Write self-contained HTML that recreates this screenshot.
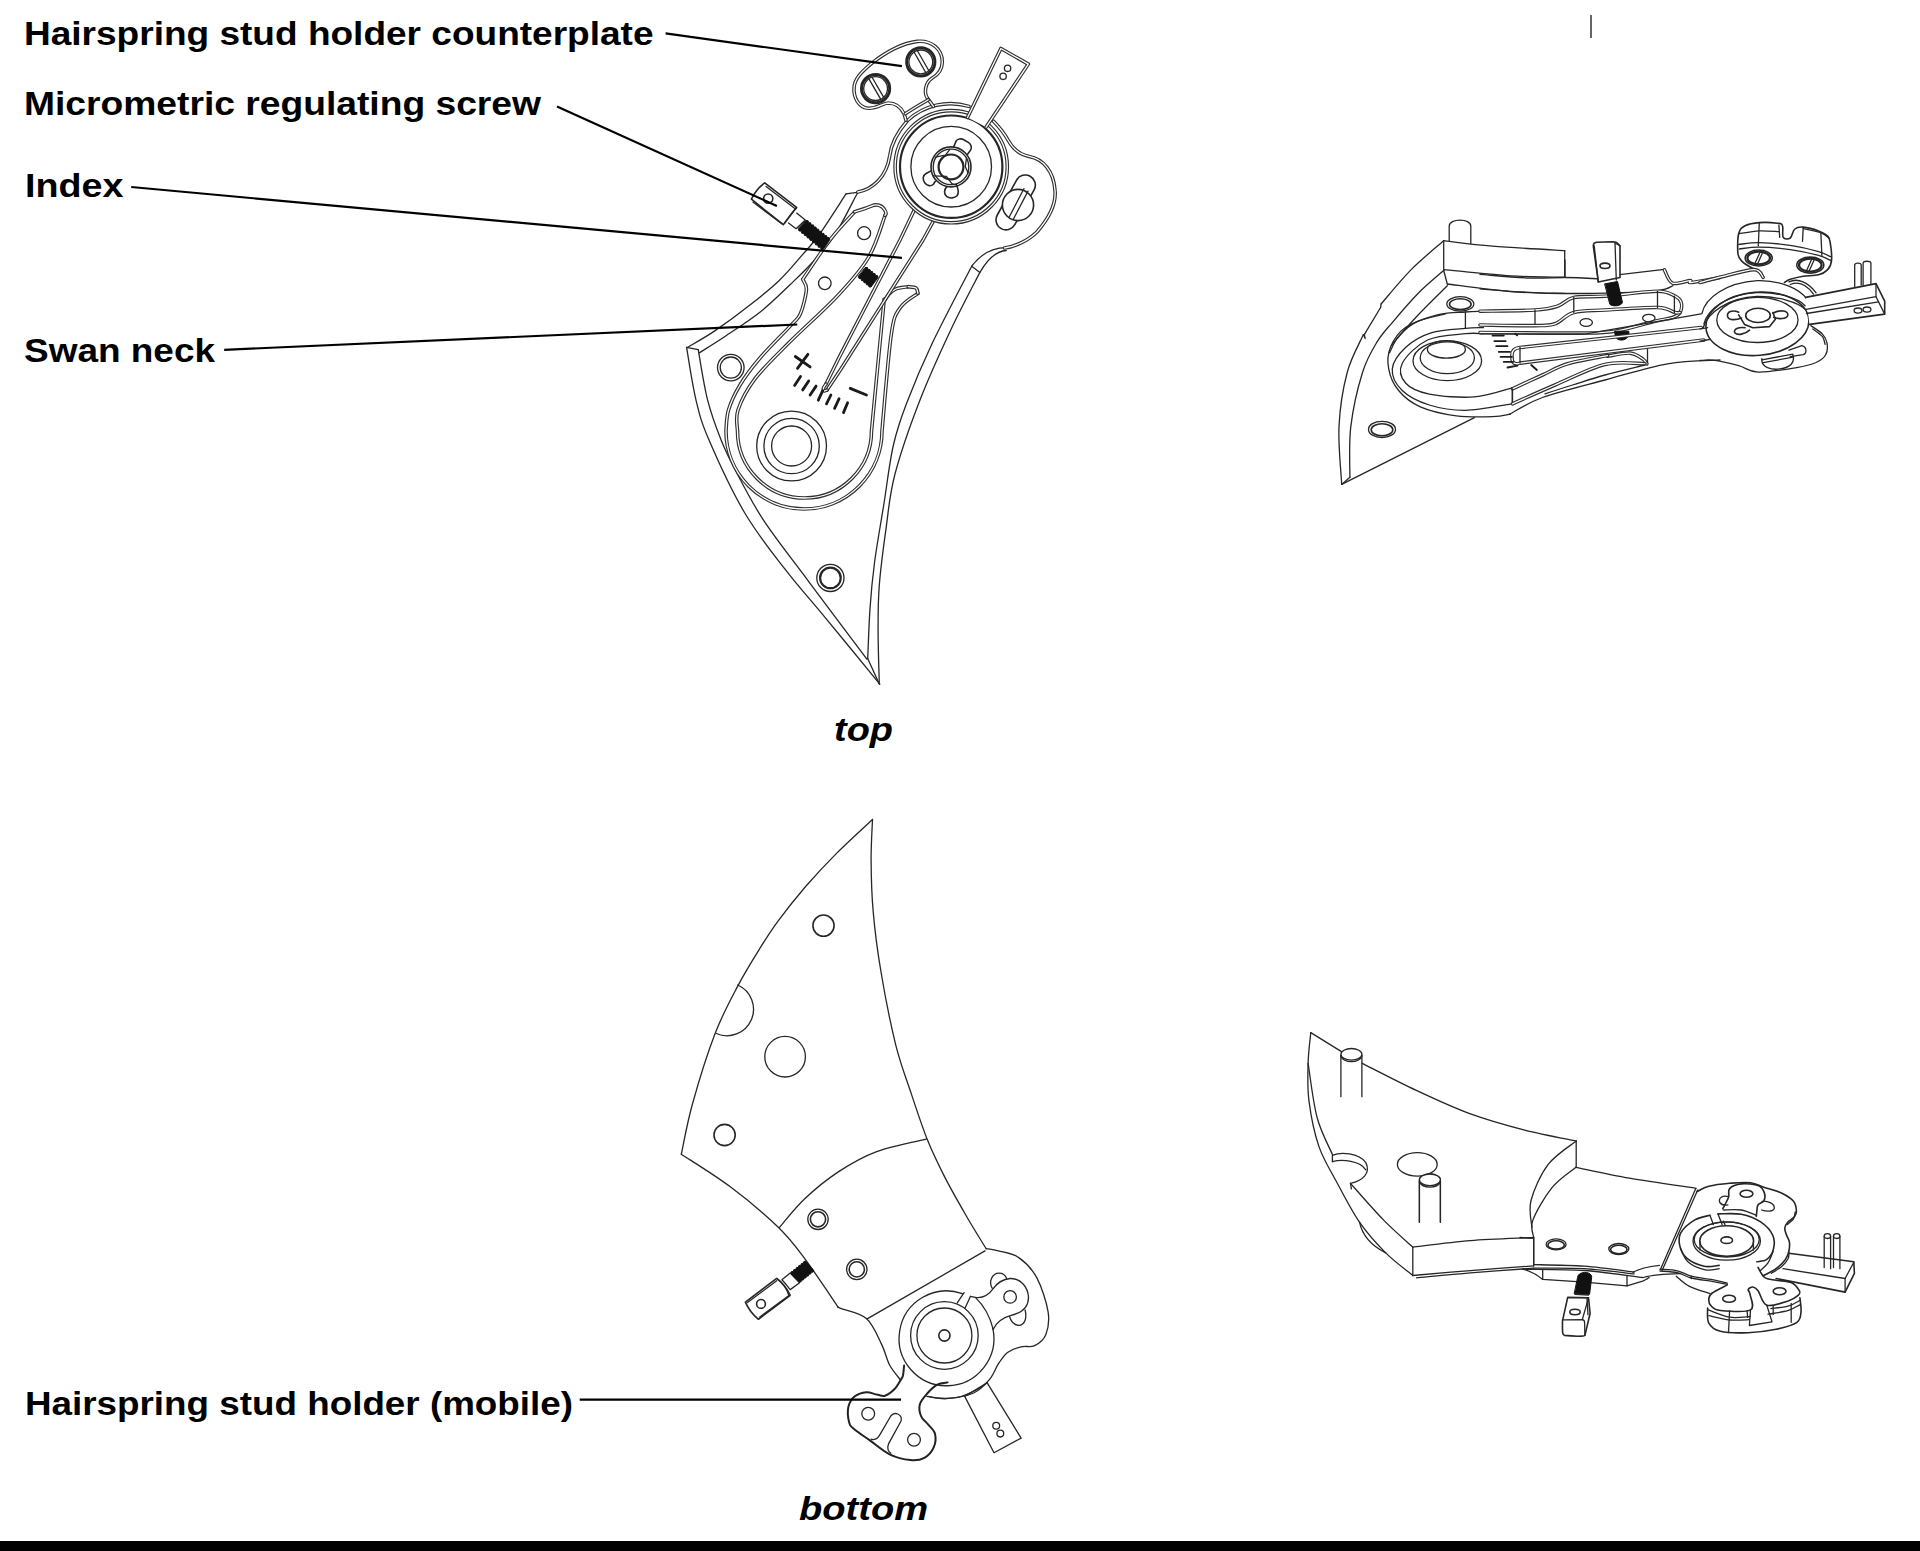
<!DOCTYPE html>
<html><head><meta charset="utf-8">
<style>
html,body{margin:0;padding:0;background:#fff;width:1920px;height:1551px;overflow:hidden;}
svg{position:absolute;left:0;top:0;}
.lab{font-family:"Liberation Sans",sans-serif;font-weight:bold;font-size:34px;fill:#000;}
.cap{font-family:"Liberation Sans",sans-serif;font-weight:bold;font-style:italic;font-size:34px;fill:#000;}
.ld{stroke:#000;stroke-width:2.2;fill:none;}
path,circle,ellipse{stroke-linejoin:round;stroke-linecap:round;fill:none;}
.s{stroke:#262626;stroke-width:1.3;fill:none;}
.s2{stroke:#262626;stroke-width:1.6;}
.th{stroke:#262626;stroke-width:2.2;}
.th3{stroke:#262626;stroke-width:3;}
.tk{stroke:#1a1a1a;stroke-width:2.8;fill:none;}
.db{stroke:#303030;stroke-width:3.6;}
.dw{stroke:#fff;stroke-width:1.3;fill:none;}
path.fb,ellipse.fb{fill:#111;stroke:#111;stroke-width:1;}
path.s2,path.th,path.th3,path.s3{fill:none;}
.s3{stroke:#222;stroke-width:2;}
.tk2{stroke:#1a1a1a;stroke-width:1.8;fill:none;}
ellipse.s2,ellipse.th{fill:none;}
circle.s2,circle.th,circle.th3,circle.s3{fill:none;}
</style></head>
<body>
<svg width="1920" height="1551" viewBox="0 0 1920 1551">
<rect x="0" y="1541" width="1920" height="10" fill="#000"/>
<line x1="1591" y1="15" x2="1591" y2="38" stroke="#666" stroke-width="2"/>
<g id="top">
<path class="s" d="M686.6,347.4 C688.1,356.1 692.2,384.2 695.9,399.6 C699.6,415 700.9,421.2 709,440 C717.1,458.8 731.8,491 744.5,512.5 C757.1,534 771.3,551.5 784.8,568.9 C798.2,586.4 809.2,598.1 825,617.3 C840.9,636.5 870.7,673 879.8,684.2" />
<path class="s" d="M698.2,349.7 C699.8,358 703.7,384.6 707.5,399.6 C711.3,414.7 716.3,427.9 721.1,440 C725.9,452.1 729.3,458.8 736.4,472.2 C743.5,485.7 751.7,502.3 763.8,520.6 C775.9,538.8 791.7,558.7 808.9,581.8 C826.1,604.9 857.3,646.3 866.9,659.2" />
<path class="s" d="M867.7,658.5 L879.3,684" />
<path class="s" d="M686.6,347.4 L698.2,349.7" />
<path class="s" d="M687,347.7 C691.6,344.9 704.4,337.9 714.8,330.9 C725.3,323.8 739,313.7 749.6,305.3 C760.3,297 769.9,289.3 778.7,281 C787.4,272.7 795.1,263.2 801.9,255.4 C808.6,247.7 811.9,244.8 819.3,234.5 C826.6,224.3 841.5,200.7 846,193.9" />
<path class="s" d="M699.2,352.9 C703.7,350 716.1,342.5 726.4,335.5 C736.8,328.6 750.6,319.7 761.2,311.2 C771.9,302.6 781.6,292.8 790.3,284.5 C799,276.1 806.1,269.4 813.5,261.2 C820.8,253.1 827,247.1 834.4,235.7 C841.7,224.3 853.7,199.9 857.6,192.8" />
<path class="s" d="M846.1,193.9 L857.3,192.3" />
<path class="s" d="M1006.2,247.6  C993.3,247.6 981,253.8 971.7,266.2 L971.7,266.2 C965.1,279.1 942.8,321 932,343.8 C921.2,366.6 913.2,386.1 906.7,403.1 C900.2,420.1 897,429.2 893.2,446 C889.4,462.8 887,484.7 883.9,504 C880.8,523.3 876.9,544.6 874.6,562 C872.3,579.4 871.1,592.5 870,608.6 C868.9,624.7 868.1,650.2 867.7,658.5" />
<path class="s" d="M1006.2,250.5  C996.4,251.2 988.2,257.9 979.9,272.4 L979.9,272.4 C975.1,281.8 961.2,307.7 951.2,329 C941.2,350.3 929.4,375.8 920,400 C910.6,424.2 900.6,452.8 895,474 C889.4,495.2 888.8,508.7 886.2,527.3 C883.6,545.8 880.6,567.9 879.3,585.3 C877.9,602.7 878.1,615.3 878.1,631.8 C878.1,648.2 879.1,675.3 879.3,684" />
<path class="s" d="M971.7,266.2 L979.9,272.4" />
<path class="db" d="M857.8,192 C872.6,189.4 886.7,176.8 889.7,156 C891.2,142.7 898.6,130.8 907.5,120.5"/>
<path class="dw" d="M857.8,192 C872.6,189.4 886.7,176.8 889.7,156 C891.2,142.7 898.6,130.8 907.5,120.5" />
<path class="db" d="M993.5,121.2  C1000.2,127.9 1004.6,133.8 1008.3,140.5  C1012.8,148.6 1019.4,154.6 1029.1,156.4  C1043.2,159 1053.6,170.9 1055,190.2  C1056.5,205 1047.6,219.8 1037.2,231.7  C1028.3,240.6 1015,246.5 1004.6,248"/>
<path class="dw" d="M993.5,121.2  C1000.2,127.9 1004.6,133.8 1008.3,140.5  C1012.8,148.6 1019.4,154.6 1029.1,156.4  C1043.2,159 1053.6,170.9 1055,190.2  C1056.5,205 1047.6,219.8 1037.2,231.7  C1028.3,240.6 1015,246.5 1004.6,248" />
<path class="db" d="M907.5,120.5 A63.3,63.3 0 0 1 969,106.4"/>
<path class="dw" d="M907.5,120.5 A63.3,63.3 0 0 1 969,106.4" />
<path class="db" d="M854.6,211.9 C850.5,216.5 838.9,228.2 830.3,239.5 C821.6,250.8 807.3,272.8 802.7,279.4 L802.7,279.4 C803.3,281.1 806.8,284 806.4,289.7 C806,295.4 803,307.7 800.5,313.5 C798,319.3 798.4,317.2 791.6,324.6 C784.9,332 768.6,347.9 760,358 C751.4,368.1 745.2,376.3 740,385 C734.8,393.7 730.8,402.3 728.5,410 C726.2,417.7 726.4,427.5 726,431 A78,78 0 0 0 882,431 L882,431 C883.5,415 888.2,355.4 891.2,334.9 C894.2,314.4 895.5,314.9 900,308 C904.5,301.1 914.9,295.8 917.9,293.4"/>
<path class="dw" d="M854.6,211.9 C850.5,216.5 838.9,228.2 830.3,239.5 C821.6,250.8 807.3,272.8 802.7,279.4 L802.7,279.4 C803.3,281.1 806.8,284 806.4,289.7 C806,295.4 803,307.7 800.5,313.5 C798,319.3 798.4,317.2 791.6,324.6 C784.9,332 768.6,347.9 760,358 C751.4,368.1 745.2,376.3 740,385 C734.8,393.7 730.8,402.3 728.5,410 C726.2,417.7 726.4,427.5 726,431 A78,78 0 0 0 882,431 L882,431 C883.5,415 888.2,355.4 891.2,334.9 C894.2,314.4 895.5,314.9 900,308 C904.5,301.1 914.9,295.8 917.9,293.4" />
<path class="db" d="M908.2,286.7 C906,287.2 898.8,287.3 894.9,289.5 C891,291.7 887,296.2 885,300 C883,303.8 885.2,290.2 883,312 C880.8,333.8 873.4,411.2 871.5,431 A67,67 0 0 1 737.5,431 L737.5,431 C737.6,427.5 735.1,418.7 738,410 C740.9,401.3 746.7,389.8 755.1,378.7 C763.5,367.6 774.9,356.9 788.6,343.1 C802.4,329.3 824.2,310 837.6,295.7 C851,281.4 860.8,270.5 868.7,257.1 C876.6,243.8 882.3,222.5 885,215.6"/>
<path class="dw" d="M908.2,286.7 C906,287.2 898.8,287.3 894.9,289.5 C891,291.7 887,296.2 885,300 C883,303.8 885.2,290.2 883,312 C880.8,333.8 873.4,411.2 871.5,431 A67,67 0 0 1 737.5,431 L737.5,431 C737.6,427.5 735.1,418.7 738,410 C740.9,401.3 746.7,389.8 755.1,378.7 C763.5,367.6 774.9,356.9 788.6,343.1 C802.4,329.3 824.2,310 837.6,295.7 C851,281.4 860.8,270.5 868.7,257.1 C876.6,243.8 882.3,222.5 885,215.6" />
<path class="db" d="M885,215.3  C886.7,214 886,211.9 884.7,209.9  C882,205.2 876.6,203.8 871.8,205.8  C867.1,207.9 860.3,209.9 854.6,211.9"/>
<path class="dw" d="M885,215.3  C886.7,214 886,211.9 884.7,209.9  C882,205.2 876.6,203.8 871.8,205.8  C867.1,207.9 860.3,209.9 854.6,211.9" />
<path class="db" d="M908.2,286.7 C909.5,286.9 914.4,286.9 916,288 C917.6,289.1 917.6,292.5 917.9,293.4"/>
<path class="dw" d="M908.2,286.7 C909.5,286.9 914.4,286.9 916,288 C917.6,289.1 917.6,292.5 917.9,293.4" />
<path class="db" d="M915.6,207.2 L900,240 L840,355.7 L826,384"/>
<path class="dw" d="M915.6,207.2 L900,240 L840,355.7 L826,384" />
<path class="db" d="M934.9,218.3 L923,240 L840,370.5 L827,390"/>
<path class="dw" d="M934.9,218.3 L923,240 L840,370.5 L827,390" />
<path class="db" d="M826,384 C825.6,384.7 823.8,386.8 823.5,388 C823.2,389.2 823.6,390.7 824.2,391 C824.8,391.3 826.5,390.2 827,390"/>
<path class="dw" d="M826,384 C825.6,384.7 823.8,386.8 823.5,388 C823.2,389.2 823.6,390.7 824.2,391 C824.8,391.3 826.5,390.2 827,390" />
<circle class="s" cx="864.1" cy="233.2" r="6.5"/>
<circle class="s" cx="824.8" cy="283.3" r="6.3"/>
<circle class="s" cx="730.8" cy="367.6" r="13.3" style="fill:#fff"/>
<circle class="s" cx="730.8" cy="367.6" r="10.6"/>
<circle class="s" cx="791.6" cy="446.0" r="34.9"/>
<circle class="s" cx="791.6" cy="446.0" r="27.7"/>
<circle class="s" cx="791.6" cy="446.0" r="20.0"/>
<circle class="s" cx="830.4" cy="577.9" r="13.6"/>
<circle class="th" cx="830.4" cy="577.9" r="10.3"/>
<path class="tk" d="M795.3,356.5 L810.1,366.9" />
<path class="tk" d="M807.9,354.3 L797.5,368.3" />
<path class="tk" d="M800.5,376.5 L794.6,385.4" />
<path class="tk" d="M808.7,381 L802.7,389.9" />
<path class="tk" d="M816.1,386.1 L810.1,395" />
<path class="tk" d="M822.7,390.6 L818.3,400.2" />
<path class="tk" d="M830.9,395 L826.5,403.9" />
<path class="tk" d="M839.1,398.7 L834.6,408.4" />
<path class="tk" d="M847.6,402.8 L843.5,412.6" />
<path class="tk" d="M850.2,388.4 L866.5,395" />
<path class="s2" d="M764.7,182.9  L796.6,207.3  L783.3,224.7  L751.4,199.2  C754.3,192.8 758.9,187 764.7,182.9  Z" style="fill:#fff"/>
<path class="s" d="M766.1,186.4  L795.5,209" />
<path class="s" d="M752.9,202.1  L782.1,223.9" />
<path class="s" d="M796.6,207.9  C792.6,211.3 787.9,218.3 784.5,223.2" />
<circle class="s2" cx="768.2" cy="198.6" r="4.6"/>
<path class="s" d="M796.6,213.1  L805.3,220  L796.1,228.7  L788.5,222.9" style="fill:#fff"/>
<path class="fb" d="M805.9,220.6 L808.1,220.7 L808.6,222.7 L810.7,222.8 L811.2,224.9 L813.4,224.9 L813.9,227 L816,227.1 L816.5,229.1 L818.6,229.2 L819.1,231.3 L821.3,231.3 L821.8,233.4 L823.9,233.4 L824.4,235.5 L826.6,235.6 L827.1,237.6 L829.2,237.7 L829.7,239.8 L823.3,249.6 L821.1,249.5 L820.6,247.3 L818.3,247.2 L817.8,245 L815.6,244.8 L815,242.7 L812.8,242.5 L812.2,240.4 L810,240.2 L809.5,238 L807.3,237.9 L806.7,235.7 L804.5,235.5 L803.9,233.4 L801.7,233.2 L801.2,231.1 L798.9,230.9 L798.4,228.7Z" />
<path class="fb" d="M865.5,267.5 L867.5,267.6 L868,269.5 L870,269.6 L870.5,271.5 L872.5,271.6 L873,273.5 L875,273.6 L875.5,275.5 L877.5,275.6 L878,277.5 L871,287 L869,286.9 L868.5,284.9 L866.5,284.8 L866,282.8 L864,282.7 L863.5,280.7 L861.5,280.6 L861,278.6 L859,278.5 L858.5,276.5Z" />
<circle class="db" cx="951.2" cy="166.7" r="56.1" style="fill:#fff"/>
<circle class="dw" cx="951.2" cy="166.7" r="56.1"/>
<circle class="th" cx="951.2" cy="166.7" r="51.2"/>
<circle class="s" cx="951.2" cy="166.7" r="40.3"/>
<circle class="s2" cx="951.0" cy="166.9" r="20.0"/>
<circle class="s" cx="951.0" cy="166.9" r="17.8"/>
<circle class="th" cx="951.0" cy="166.9" r="12.4"/>
<path class="s2" d="M953.7,146.9  L956.1,141.1  C957.1,138.7 961.4,138.2 963.8,139.7  L968.7,142.6  C971.6,144.5 972.1,148.4 970.1,150.8  L967.2,154.7" />
<path class="s2" d="M931.4,170.6  L926.1,173.5  C922.7,175.5 922.3,179.3 924.7,182.7  C927.1,186.1 931,186.6 933.4,184.2  L935.3,181.3" />
<path class="s2" d="M946.9,186.6  C944,189.5 943.5,194.3 946.9,196.7  C949.8,198.7 954.7,198.2 957.1,195.8  C959,192.9 958,188 956.1,184.2" />
<path class="s" d="M935.3,157.1  L945.5,155.1  L949.8,149.3" />
<path class="s" d="M933.4,175.9  L946.4,176.4  L951.8,183.7  L955.1,184.6" />
<path class="s" d="M966.3,159  L965.3,166.8  L968.2,173" />
<path class="db" d="M967.5,117.5 L1000.9,48.5 L1028.3,64.1 L986.1,127.1" style="fill:#fff"/>
<path class="dw" d="M967.5,117.5 L1000.9,48.5 L1028.3,64.1 L986.1,127.1" />
<circle class="s" cx="1007.6" cy="68.3" r="3.2"/>
<circle class="s" cx="1003.1" cy="76.3" r="3.2"/>
<path class="db" d="M906,120.2  L904.1,113.8  C900.8,107.1 894.9,103 888.2,103  C882.3,103.4 877.8,108.6 868.2,108.3  C857.8,107.1 853.3,96.7 854.1,87.1  C854.8,78.9 860.8,72.3 872.6,62.6  C886,52.2 902.3,43.3 917.1,41.4  C931.9,40.1 942.3,49.3 942.3,61.9  C942.3,70.8 937.1,75.2 931.9,78.2  C925.3,82.6 923.8,92.3 927.2,97.9  L933.4,106.4"/>
<path class="dw" d="M906,120.2  L904.1,113.8  C900.8,107.1 894.9,103 888.2,103  C882.3,103.4 877.8,108.6 868.2,108.3  C857.8,107.1 853.3,96.7 854.1,87.1  C854.8,78.9 860.8,72.3 872.6,62.6  C886,52.2 902.3,43.3 917.1,41.4  C931.9,40.1 942.3,49.3 942.3,61.9  C942.3,70.8 937.1,75.2 931.9,78.2  C925.3,82.6 923.8,92.3 927.2,97.9  L933.4,106.4" />
<path class="db" d="M905.3,113.8  C912.7,108.6 920.8,104.2 928.2,99.7"/>
<path class="dw" d="M905.3,113.8  C912.7,108.6 920.8,104.2 928.2,99.7" />
<circle class="th3" cx="920.8" cy="61.9" r="14.1"/>
<circle class="s" cx="920.8" cy="61.9" r="11.9"/>
<circle class="th3" cx="875.6" cy="88.6" r="14.1"/>
<circle class="s" cx="875.6" cy="88.6" r="11.9"/>
<path class="s" d="M914.2,52.2  L926,73" />
<path class="s" d="M917.4,50.8  L929.3,71.5" />
<path class="s" d="M868.9,78.9  L880.8,99.4" />
<path class="s" d="M872.2,77.5  L884,97.9" />
<path class="s2" d="M1034.1,189.8 L1014.8,224.7 A10,10 0 0 1 997.3,215.0 L1016.6,180.1 A10,10 0 0 1 1034.1,189.8 Z" />
<circle class="s2" cx="1018.0" cy="205.0" r="15.6" style="fill:#fff"/>
<path class="s" d="M1023.9,188.7  L1009.1,217.2" />
<path class="s" d="M1028,191.1  L1013.2,219.5" />
</g>
<g id="bot">
<path class="s" d="M872.5,819.5 C866.6,825 848.2,841.7 837,852.9 C825.9,864.1 815.2,875.5 805.4,886.7 C795.7,898 785.9,910.5 778.4,920.6 C770.8,930.8 767.1,936.8 760.3,947.7 C753.5,958.6 745.2,971.8 737.7,986.1 C730.2,1000.4 722.7,1013.9 715.1,1033.5 C707.6,1053 698.2,1083.3 692.6,1103.5 C686.9,1123.6 683.2,1145.8 681.3,1154.2" />
<path class="s" d="M681.3,1154.2 C689.4,1159.6 714,1174.5 730,1186.6 C746,1198.6 765.2,1214.7 777.5,1226.5 C789.8,1238.3 793.9,1244.1 804,1257.6 C814.1,1271.1 832.6,1299 838.3,1307.3" />
<path class="s" d="M872.5,819.5 C872.3,826.2 871,844.3 871.1,859.7 C871.2,875 871.5,892.8 873.2,911.6 C874.8,930.4 877.3,950.3 881.1,972.5 C884.8,994.7 890.7,1024.4 895.7,1044.8 C900.8,1065.1 906.3,1078.6 911.5,1094.4 C916.8,1110.2 921.9,1125.9 927.3,1139.6 C932.8,1153.2 937.8,1163.5 944.4,1176.4 C950.9,1189.3 960,1205 966.9,1217 C973.9,1229.1 982.9,1243.3 986.1,1248.6" />
<path class="s" d="M926.3,1139.2 C918,1141.2 891.3,1146.1 876.7,1151.6 C862,1157 850.3,1164 838.3,1171.9 C826.3,1179.8 814.2,1189.8 804.5,1199 C794.7,1208.2 783.8,1222.5 779.6,1227.2" />
<path class="s" d="M867.6,1318.6 L985,1250.9" />
<path class="s" d="M737.7,985 A26.5,26.5 0 0 1 716.3,1033.5" />
<circle class="s2" cx="823.5" cy="925.6" r="10.6"/>
<circle class="s" cx="785.1" cy="1056.7" r="20.3"/>
<circle class="s2" cx="724.6" cy="1135.0" r="10.6"/>
<circle class="s" cx="818.0" cy="1219.3" r="10.2"/>
<circle class="s2" cx="818.0" cy="1219.3" r="7.6"/>
<circle class="s" cx="856.8" cy="1269.4" r="10.2"/>
<circle class="s2" cx="856.8" cy="1269.4" r="7.6"/>
<path class="s" d="M986.1,1248.6 C988.2,1249 993,1249.4 998.5,1250.9 C1004,1252.4 1012.4,1253.1 1018.8,1257.6 C1025.2,1262.1 1032,1268.9 1036.9,1277.9 C1041.7,1287 1046.6,1302.4 1048.1,1311.8 C1049.6,1321.2 1048.1,1328.7 1045.9,1334.4 C1043.6,1340 1038.7,1343.6 1034.6,1345.6 C1030.5,1347.7 1025.6,1345.6 1021.1,1346.8 C1016.6,1347.9 1011.3,1349.6 1007.5,1352.4 C1003.8,1355.2 1001.5,1359.2 998.5,1363.7 C995.5,1368.2 993.6,1374.6 989.5,1379.5 C985.3,1384.4 980.8,1389.8 973.7,1393 C966.5,1396.2 954.1,1398.1 946.6,1398.7 C939.1,1399.2 931.6,1396.8 928.6,1396.4" />
<circle class="s" cx="944.4" cy="1335.5" r="33.8"/>
<circle class="s" cx="944.4" cy="1335.5" r="27.5"/>
<circle class="s2" cx="944.4" cy="1335.5" r="5.6"/>
<path class="s" d="M962.4,1293.7 A47.4,47.4 0 1 0 992.9,1328.7" />
<path class="s" d="M970.4,1296.4  L975.3,1297.4  C981.5,1298.4 988.3,1295.5 993.2,1288.7  C998,1281.9 1003.8,1279 1010.1,1278.5  C1020.2,1278 1028,1286.8 1028.5,1297.4  C1028.5,1306.1 1023.1,1312.9 1009.6,1315.8  C1003.8,1317.2 996.1,1322.5 993.2,1329.3" />
<path class="s" d="M975.3,1297.4  C982.5,1304.2 989.3,1313.8 993.2,1329.3" />
<path class="s" d="M992.2,1288.2  C988.3,1281.9 992.2,1273.2 999,1273.2  C1002.8,1273.2 1005.7,1276.1 1006.7,1278.5" />
<path class="s" d="M1009.6,1316.7  C1011.5,1322.5 1015.4,1325.4 1019.3,1325.4  C1025.1,1324.5 1027,1317.7 1025.1,1310" />
<circle class="s" cx="1010.1" cy="1296.9" r="6.3"/>
<path class="s" d="M964.1,1292.6  L957.4,1302.7" />
<path class="s" d="M970.4,1296.4  L965.1,1308" />
<path class="s" d="M964.7,1396.4 L987.2,1382.9 L1021.1,1438.1 L994,1452.8Z" />
<circle class="s" cx="996.2" cy="1425.7" r="3.4"/>
<circle class="s" cx="1000.3" cy="1433.6" r="3.4"/>
<path class="s" d="M838.3,1307.3 C838.7,1307.5 835.9,1306.5 840.6,1308.4 C845.3,1310.3 859.6,1312.6 866.4,1318.6 C873.2,1324.5 877.6,1336.4 881.5,1344.1 C885.4,1351.8 886.4,1359 889.6,1365 C892.8,1371 898.8,1377.6 900.6,1380.1" />
<path class="s3" d="M904.1,1365.6 C903.9,1367.2 903.5,1373 903,1375.4 C902.4,1377.8 902.1,1377.7 900.6,1380.1 C899.2,1382.4 896.9,1386.7 894.3,1389.3 C891.7,1392 887.9,1394.9 885,1395.7 C882.1,1396.6 880,1395.1 876.9,1394.6 C873.8,1394 870.1,1392 866.4,1392.2 C862.7,1392.5 857.8,1393.9 854.8,1396.3 C851.8,1398.7 849.4,1402.5 848.4,1406.8 C847.5,1411 848.1,1418.2 849,1421.8 C849.9,1425.5 850.2,1425.7 853.7,1428.8 C857.1,1431.9 863.9,1436.1 869.9,1440.4 C875.9,1444.7 882.9,1451 889.6,1454.3 C896.4,1457.6 904.7,1459.5 910.5,1460.1 C916.3,1460.7 920.6,1459.9 924.4,1457.8 C928.3,1455.7 932,1451.4 933.7,1447.4 C935.5,1443.3 936,1437.5 934.9,1433.4 C933.7,1429.4 929.1,1425.9 926.8,1423 C924.4,1420.1 922.1,1419.1 921,1416 C919.8,1412.9 918.8,1408.1 919.8,1404.4 C920.8,1400.8 923.9,1397.3 926.8,1394 C929.7,1390.7 933.7,1386.6 937.2,1384.7 C940.7,1382.8 945.9,1382.8 947.6,1382.4" />
<circle class="s" cx="868.2" cy="1413.7" r="6.4"/>
<circle class="s" cx="914.0" cy="1439.8" r="6.4"/>
<path class="s" d="M871.1,1439.2  C874.5,1440.4 878,1438.1 879.2,1435.8  L890.8,1416  C894.3,1411.4 902.4,1413.7 901.2,1420.7  L888.5,1443.9  C886.7,1448.5 888.5,1452 890.8,1453.2" />
<path class="s" d="M926.8,1396.3  C936,1398.6 953.4,1399.8 965,1395.1  C976.6,1390.5 984.8,1384.7 987.1,1382.4" />
<path class="s2" d="M745.4,1302.1  L776.7,1278.4  C781.9,1282.3 786.6,1287.5 790.2,1295.3  L758.4,1319.3  C752.2,1314.1 748,1308.3 745.4,1302.1  Z" style="fill:#fff"/>
<path class="s" d="M747.5,1302.6  L776.7,1280.7" />
<path class="s" d="M759.5,1317.2  L788.6,1295.8" />
<path class="s" d="M777.7,1279.2  C782.9,1283.3 786.6,1288.5 788.6,1294.8" />
<circle class="s2" cx="761.0" cy="1303.9" r="4.4"/>
<path class="s" d="M781.9,1279.7  L790.2,1272.9  L799.6,1282.8  L790.2,1289.6  C787.6,1286.5 785,1282.8 781.9,1279.7  Z" style="fill:#fff"/>
<path class="fb" d="M790.7,1273.4 L791.4,1271.6 L793.2,1271.4 L793.9,1269.6 L795.8,1269.4 L796.4,1267.6 L798.3,1267.3 L798.9,1265.5 L800.8,1265.3 L801.4,1263.5 L803.3,1263.2 L803.9,1261.4 L805.8,1261.2 L813.6,1270.3 L813.1,1272.1 L811.3,1272.3 L810.7,1274 L808.9,1274.2 L808.3,1276 L806.5,1276.2 L805.9,1277.9 L804.1,1278.1 L803.5,1279.9 L801.7,1280.1 L801.1,1281.8 L799.3,1282Z" />
</g>
<g id="rtop">
<path class="s" d="M1341.7,484.4 C1341.3,474.8 1338.1,445.3 1339,426.6 C1339.9,408 1343.1,387.8 1347.2,372.5 C1351.2,357.1 1360.7,340.9 1363.4,334.6" />
<path class="s" d="M1363.4,334.6 L1365.2,338.5 L1364.3,334.6 L1380.6,307.5" />
<path class="s" d="M1380.6,307.5 L1381.1,303.9" />
<path class="s" d="M1381.1,303.9 C1386.1,298.2 1400.8,280.1 1411.2,269.6 C1421.7,259 1438.3,245.5 1443.7,240.7" />
<path class="s" d="M1349.9,477.2 C1350,468.8 1348.7,444.1 1350.8,426.6 C1352.9,409.2 1358.1,386.6 1362.5,372.5 C1366.9,358.4 1371.9,350.5 1376.9,342.2 C1381.9,333.8 1385.5,330.5 1392.5,322.3 C1399.4,314.1 1409.9,301.7 1418.5,293 C1427,284.4 1439.5,274.2 1443.7,270.5" />
<path class="s" d="M1447.3,285.8 C1442.2,290.9 1426,306.6 1416.7,316.5 C1407.3,326.4 1395.6,340.6 1391.4,345.4" />
<path class="s" d="M1341.7,484.4 L1474.4,417.6" />
<path class="s" d="M1341.7,484.4 L1349.9,477.2" />
<path class="s" d="M1443.7,240.7 C1451.9,241.6 1472.3,244.5 1492.5,246.1 C1512.6,247.8 1552.7,249.9 1564.7,250.6" />
<path class="s" d="M1443.7,240.7 L1443.7,270.5" />
<path class="s" d="M1443.7,269.6 C1454.9,270.6 1490.4,274.6 1510.5,275.9 C1530.7,277.2 1555.7,276.9 1564.7,277.2" />
<path class="s" d="M1443.7,270.5 L1447.3,284" />
<path class="s" d="M1447.3,284 C1457.9,285.3 1491,290 1510.5,291.6 C1530.1,293.2 1555.7,293.1 1564.7,293.4" />
<path class="s" d="M1564.7,250.6 L1564.7,277.2" />
<path class="s" d="M1449.2,240.7  L1449.2,226.2  C1449.2,218.1 1470.8,218.1 1470.8,226.2  L1470.8,243.4" />
<ellipse class="s" cx="1460.3" cy="303.9" rx="13.5" ry="7.2"/>
<ellipse class="s2" cx="1460.3" cy="304.2" rx="10.8" ry="5.4"/>
<ellipse class="s" cx="1382.0" cy="429.4" rx="13.5" ry="8.1"/>
<ellipse class="s2" cx="1382.0" cy="429.7" rx="10.8" ry="6.0"/>
<path class="s" d="M1483.5,311.1 C1480.4,311.3 1472.9,311.4 1465.4,312 C1457.9,312.6 1448.3,312.2 1438.3,314.7 C1428.4,317.3 1413.8,321.9 1405.8,327.3 C1397.9,332.8 1393.3,340.3 1390.5,347.2 C1387.6,354.1 1387.3,361.7 1388.7,368.9 C1390,376.1 1393.3,384.2 1398.6,390.5 C1403.9,396.9 1410.6,402.6 1420.3,406.8 C1429.9,411 1444.3,414.2 1456.4,415.8 C1468.4,417.5 1483.5,417 1492.5,416.7 C1501.5,416.4 1507.5,414.5 1510.5,414" />
<path class="s" d="M1483.5,327.7 C1480.4,327.8 1474.1,327.4 1465.4,328.3 C1456.7,329.1 1441,329.6 1431.1,332.8 C1421.2,335.9 1412.3,341.2 1405.8,347.2 C1399.4,353.2 1392.9,361.7 1392.3,368.9 C1391.7,376.1 1396,384.5 1402.2,390.5 C1408.4,396.6 1418.8,401.7 1429.3,405 C1439.8,408.3 1451.9,410.5 1465.4,410.4 C1478.9,410.2 1503,405.1 1510.5,404.1" />
<path class="s" d="M1483.5,333.7 C1480.4,333.7 1474.7,332.6 1465.4,333.7 C1456.1,334.7 1438,335 1427.5,340 C1417,345 1405.8,356.2 1402.2,363.5 C1398.6,370.7 1401.3,378.2 1405.8,383.3 C1410.3,388.4 1417.9,391.9 1429.3,394.1 C1440.7,396.4 1460.6,397.9 1474.4,396.9 C1488.3,395.8 1506,389.3 1512.3,387.8" />
<path class="s" d="M1445.5,313.8 C1440.7,315.2 1424.5,318.2 1416.7,321.9 C1408.8,325.7 1403.1,331.3 1398.6,336.4 C1394.1,341.5 1391.1,349.9 1389.6,352.6" />
<path class="s" d="M1465.4,312 L1465.4,328.3" />
<path class="s" d="M1512.3,387.8 L1512.3,403.2" />
<ellipse class="s" cx="1447.3" cy="360.7" rx="34.3" ry="19.9"/>
<ellipse class="s" cx="1447.3" cy="357.7" rx="27.1" ry="15.9"/>
<ellipse class="s" cx="1446.4" cy="349.4" rx="19.0" ry="8.7"/>
<path class="s" d="M1480,274.4 C1488.3,275 1515.8,277.6 1530,278.1 C1544.2,278.6 1553.8,277.4 1565,277.5 C1576.2,277.6 1592.1,278.5 1597.5,278.8" />
<path class="s" d="M1565,260 L1565,276.9" />
<path class="s" d="M1617.5,274.8 C1625.3,273.9 1656.6,270.3 1664.4,269.4" />
<path class="db" d="M1664.4,269.8 C1665.7,272 1668.2,281.3 1672.5,283.1 C1676.8,284.9 1686.9,280.7 1690,280.6 C1693.1,280.5 1686.2,283 1691.2,282.5 C1696.2,282 1715.2,278.3 1720,277.5"/>
<path class="dw" d="M1664.4,269.8 C1665.7,272 1668.2,281.3 1672.5,283.1 C1676.8,284.9 1686.9,280.7 1690,280.6 C1693.1,280.5 1686.2,283 1691.2,282.5 C1696.2,282 1715.2,278.3 1720,277.5" />
<path class="s" d="M1480,288.8 C1490.4,289.5 1521.7,292.4 1542.5,293.1 C1563.3,293.9 1585.8,293.5 1605,293.1 C1624.2,292.7 1646.1,291.9 1657.5,290.6 C1668.9,289.4 1670.5,286.5 1673.1,285.6" />
<path class="db" d="M1480,311.2 C1489.2,311 1522.1,310.8 1535,310 C1547.9,309.2 1551,308.3 1557.5,306.2 C1564,304.2 1565.8,299.2 1573.8,297.5 C1581.7,295.8 1591,297.3 1605,296.2 C1619,295.2 1645.8,291.2 1657.5,291.2 C1669.2,291.2 1671,294.4 1675,296.2 C1679,298.1 1680.4,299.8 1681.2,302.5 C1682.1,305.2 1681.5,310 1680,312.5 C1678.5,315 1676.7,316 1672.5,317.5 C1668.3,319 1664.6,319 1655,321.2 C1645.4,323.5 1627.5,329.3 1615,331.2 C1602.5,333.2 1602.5,332.9 1580,333.1 C1557.5,333.3 1496.7,332.6 1480,332.5"/>
<path class="dw" d="M1480,311.2 C1489.2,311 1522.1,310.8 1535,310 C1547.9,309.2 1551,308.3 1557.5,306.2 C1564,304.2 1565.8,299.2 1573.8,297.5 C1581.7,295.8 1591,297.3 1605,296.2 C1619,295.2 1645.8,291.2 1657.5,291.2 C1669.2,291.2 1671,294.4 1675,296.2 C1679,298.1 1680.4,299.8 1681.2,302.5 C1682.1,305.2 1681.5,310 1680,312.5 C1678.5,315 1676.7,316 1672.5,317.5 C1668.3,319 1664.6,319 1655,321.2 C1645.4,323.5 1627.5,329.3 1615,331.2 C1602.5,333.2 1602.5,332.9 1580,333.1 C1557.5,333.3 1496.7,332.6 1480,332.5" />
<path class="s" d="M1535,310 L1535,325.6" />
<path class="db" d="M1480,325 C1489.2,325.1 1522.5,325.8 1535,325.6 C1547.5,325.4 1548.5,325.9 1555,323.8 C1561.5,321.6 1565.4,314.8 1573.8,312.5 C1582.1,310.2 1591,310.8 1605,310 C1619,309.2 1645.8,307.1 1657.5,307.5 C1669.2,307.9 1671.2,311.7 1675,312.5 C1678.8,313.3 1679.2,312.5 1680,312.5"/>
<path class="dw" d="M1480,325 C1489.2,325.1 1522.5,325.8 1535,325.6 C1547.5,325.4 1548.5,325.9 1555,323.8 C1561.5,321.6 1565.4,314.8 1573.8,312.5 C1582.1,310.2 1591,310.8 1605,310 C1619,309.2 1645.8,307.1 1657.5,307.5 C1669.2,307.9 1671.2,311.7 1675,312.5 C1678.8,313.3 1679.2,312.5 1680,312.5" />
<path class="s" d="M1573.8,297.5 L1573.8,312.5" />
<path class="s" d="M1657.5,291.2 L1657.5,307.5" />
<path class="s" d="M1674.4,296.2 L1674.4,312.5" />
<ellipse class="s" cx="1586.2" cy="322.5" rx="6.2" ry="3.8"/>
<ellipse class="s" cx="1648.8" cy="318.1" rx="6.2" ry="3.8"/>
<path class="s2" d="M1593.3,245.8  C1593.3,243.3 1595,242.5 1596.7,242.3  L1612.5,241.7  C1615.8,241.7 1617.5,242.5 1618.3,244.2  L1620,245.8  L1620,277.5  L1598.3,282  Z" style="fill:#fff"/>
<path class="s" d="M1594.2,245.8 L1598.3,282" />
<path class="s" d="M1615,242.5 L1616.3,280" />
<path class="s" d="M1615.3,243.3 L1620,245.8" />
<ellipse class="s2" cx="1605.0" cy="265.8" rx="5.0" ry="2.7"/>
<path class="fb" d="M1605,283.8  L1617.5,281.5  L1622.5,302.5  C1621.2,306.2 1612.5,306.9 1610,304.4  Z" />
<path class="fb" d="M1615,331.2  L1628.8,331.2  C1630,337.5 1625,340.6 1620,340  C1616.2,339.4 1614.4,336.2 1615,331.2  Z" />
<path class="s" d="M1701.2,313.8  L1586.2,333.8  L1480,333.8" />
<path class="db" d="M1701.2,327.5  L1520,347.5  C1513.8,348.1 1511.9,351.2 1511.9,355  L1512.2,360  C1512.8,363.8 1516.2,364.4 1520,363.1  L1703.8,340"/>
<path class="dw" d="M1701.2,327.5  L1520,347.5  C1513.8,348.1 1511.9,351.2 1511.9,355  L1512.2,360  C1512.8,363.8 1516.2,364.4 1520,363.1  L1703.8,340" />
<path class="s" d="M1520,347.5 L1520,363.1" />
<path class="tk2" d="M1492.5,335.6 L1503.8,335.6" />
<path class="tk2" d="M1494.4,341.2 L1505.6,341.2" />
<path class="tk2" d="M1496.2,346.2 L1507.5,346.2" />
<path class="tk2" d="M1498.8,351.9 L1510,351.9" />
<path class="tk2" d="M1500.6,356.9 L1511.9,356.9" />
<path class="tk2" d="M1503.8,361.9 L1513.1,361.9" />
<path class="tk2" d="M1507.5,367.5 L1517.5,365.6" />
<path class="tk2" d="M1515.2,333.8 L1517.2,335.4" />
<path class="tk2" d="M1531.2,365 L1536.9,370" />
<path class="db" d="M1607.5,356.2 C1611.2,355.7 1624.2,352.7 1630,353.1 C1635.8,353.5 1639.7,357 1642.5,358.8 C1645.3,360.5 1646.1,362.9 1646.9,363.8"/>
<path class="dw" d="M1607.5,356.2 C1611.2,355.7 1624.2,352.7 1630,353.1 C1635.8,353.5 1639.7,357 1642.5,358.8 C1645.3,360.5 1646.1,362.9 1646.9,363.8" />
<path class="s" d="M1647.5,349.4 L1647.5,362.5" />
<path class="db" d="M1512.5,388.8 C1517.5,386.5 1533.3,379.2 1542.5,375 C1551.7,370.8 1556.7,367 1567.5,363.8 C1578.3,360.5 1600.8,357 1607.5,355.6"/>
<path class="dw" d="M1512.5,388.8 C1517.5,386.5 1533.3,379.2 1542.5,375 C1551.7,370.8 1556.7,367 1567.5,363.8 C1578.3,360.5 1600.8,357 1607.5,355.6" />
<path class="s" d="M1512.5,388.8 L1512.5,403.8" />
<path class="db" d="M1512.5,403.8 C1519.6,400.6 1539.6,391.6 1555,385 C1570.4,378.4 1590,367.9 1605,364.4 C1620,360.8 1638.3,363.9 1645,363.8"/>
<path class="dw" d="M1512.5,403.8 C1519.6,400.6 1539.6,391.6 1555,385 C1570.4,378.4 1590,367.9 1605,364.4 C1620,360.8 1638.3,363.9 1645,363.8" />
<path class="s" d="M1510,414 C1515.4,411.2 1526.7,403.2 1542.5,397.5 C1558.3,391.8 1584.2,385.6 1605,380 C1625.8,374.4 1648.3,367.1 1667.5,363.8 C1686.7,360.4 1711.2,360.6 1720,360" />
<path class="s" d="M1545,393.8 C1549.6,392.3 1562.5,388.1 1572.5,385 C1582.5,381.9 1592.9,378.3 1605,375 C1617.1,371.7 1638.3,366.7 1645,365" />
<ellipse class="s2" cx="1757.4" cy="323.8" rx="51.6" ry="31.6" style="fill:#fff" transform="rotate(-5 1757.4 323.8)"/>
<path class="s" d="M1701.9,313.5  C1705.2,298 1725.8,282.5 1757.4,280.6  C1779.9,279.9 1800.6,289 1807,299.3" />
<path class="s" d="M1703.9,323.8  C1707.7,308.3 1728.4,294.1 1756.7,292.6  C1777.4,291.8 1798,298 1805.1,305.7" />
<path class="s" d="M1703.2,327.7  C1707.7,312.2 1728.4,298 1756.7,296.5  C1777.4,296.1 1798,301.9 1805.7,309.6" />
<ellipse class="s" cx="1757.4" cy="319.9" rx="40.6" ry="22.6"/>
<ellipse class="s2" cx="1758.0" cy="315.4" rx="12.3" ry="7.1"/>
<path class="s2" d="M1738.7,312.2  C1732.2,309.3 1726.4,311.9 1727.7,316.7  C1729,320.6 1736.1,320.2 1741.5,318" />
<path class="s2" d="M1772.9,313.2  C1779.9,309.3 1789,310.6 1787.7,315.4  C1786.4,319.3 1778.9,319.3 1773.8,317.3" />
<path class="s2" d="M1745.1,327.7  C1738.7,327 1732.9,328.9 1734.8,332.8  C1737.4,335.7 1745.1,334.4 1749.6,330.2" />
<path class="s2" d="M1738.7,314.8  L1744.5,324.4  L1752.9,327.7  L1769.6,326.6  L1775.4,319.3  L1772.9,312.4" />
<path class="s" d="M1761.9,358.6  C1760.6,367.6 1772.2,370.2 1779.9,368.9  C1790.3,367.6 1795.4,362.5 1792.8,354.7" />
<path class="s" d="M1761.9,359.9 L1792.8,354.1" />
<path class="s" d="M1763.2,362.7 L1793.1,357.1" />
<path class="s" d="M1789,350.2  L1801.9,345.7  C1807,347 1807,353.4 1803.2,354.7  L1790.3,356.7" />
<path class="s" d="M1810.9,325.7 C1812.8,327.1 1819.8,331.2 1822.5,334.1 C1825.2,337 1826.5,339.7 1827,343.1 C1827.6,346.6 1827.6,351.5 1825.7,354.7 C1823.9,358 1820.9,360.3 1816.1,362.5 C1811.2,364.6 1806.4,366 1796.7,367.6 C1787,369.2 1767.7,372.5 1758,372.1 C1748.4,371.8 1746.2,367.7 1738.7,365.7 C1731.2,363.7 1719.3,361 1712.9,360.2 C1706.4,359.3 1702.1,360.5 1700,360.5" />
<path class="s" d="M1812.8,328.9 C1814.4,330.2 1820.5,334.1 1822.5,336.7 C1824.5,339.3 1824.7,343.1 1825.1,344.4" />
<path class="s2" d="M1763.2,277.4 C1762.8,276.5 1762.5,273.8 1760.6,272.2 C1758.7,270.6 1754.6,269.4 1751.6,267.7 C1748.6,266 1744.8,264.2 1742.6,261.9 C1740.3,259.6 1738.7,258.9 1738,254.2 C1737.4,249.4 1737.5,238.3 1738.7,233.5 C1739.9,228.8 1741.7,227.6 1745.1,225.8 C1748.6,224 1753.9,223 1759.3,222.6 C1764.7,222.1 1773.5,222.7 1777.4,223.2 C1781.2,223.7 1781.6,223.4 1782.5,225.8 C1783.5,228.2 1781.9,235.4 1783.2,237.4 C1784.5,239.4 1788.3,239.4 1790.3,238 C1792.2,236.6 1792.6,230.8 1794.8,229 C1796.9,227.2 1799.2,226.8 1803.2,227.1 C1807.1,227.4 1814.5,229.4 1818.6,230.9 C1822.7,232.5 1825.7,234.2 1827.7,236.1 C1829.6,238 1829.6,238.5 1830.2,242.6 C1830.9,246.6 1832,256.1 1831.5,260.6 C1831.1,265.1 1829.8,267.3 1827.7,269.6 C1825.5,272 1822.7,273.7 1818.6,274.8 C1814.5,275.9 1807.9,275.6 1803.2,276.3 C1798.4,277.1 1793.4,278.3 1790.3,279.3 C1787.1,280.3 1785.4,282 1784.5,282.5" style="fill:#fff"/>
<path class="s" d="M1738.7,244.5 C1742.1,244.2 1750.7,242.4 1759.3,242.6 C1767.9,242.7 1780.4,243.9 1790.3,245.4 C1800.2,246.9 1811.9,249.7 1818.6,251.6 C1825.3,253.5 1828.5,255.9 1830.5,256.7" />
<path class="s" d="M1739.3,249 C1742.7,248.7 1750.8,247 1759.3,247.1 C1767.8,247.2 1780.4,248.2 1790.3,249.6 C1800.2,251 1811.9,253.6 1818.6,255.4 C1825.4,257.3 1828.8,259.7 1830.9,260.6" />
<path class="s" d="M1738.7,233.8 C1742.1,233.3 1752.6,231.3 1759.3,230.9 C1766,230.6 1775.7,231.5 1778.9,231.6" />
<path class="s" d="M1803.2,228.6 C1806.2,229.3 1816.8,231.2 1821.2,232.9 C1825.6,234.6 1828.2,237.7 1829.6,238.7" />
<path class="s" d="M1759.3,222.6 L1758.3,245.8" />
<path class="s" d="M1820.8,232.2 L1821.9,255.4" />
<path class="s" d="M1778.9,225.1 L1779.7,237.4" />
<path class="s" d="M1803.2,227.7 L1802.5,241.3" />
<ellipse class="s2" cx="1758.7" cy="258.0" rx="13.5" ry="8.0" style="fill:#fff"/>
<ellipse class="th" cx="1758.7" cy="258.0" rx="11.3" ry="6.4"/>
<path class="s" d="M1754.8,263.8  L1760.6,250.9  M1757.4,264.2  L1763.2,251.3" />
<ellipse class="s2" cx="1810.3" cy="265.1" rx="13.5" ry="8.0" style="fill:#fff"/>
<ellipse class="th" cx="1810.3" cy="265.1" rx="11.3" ry="6.4"/>
<path class="s" d="M1806.4,270.9  L1812.2,258  M1809,271.3  L1814.8,258.4" />
<path class="s" d="M1789,281.9  C1798,277.4 1808.3,282.5 1816.1,292.8" />
<path class="s" d="M1790.3,284.5  C1799.3,280.6 1807,285.1 1813.5,294.1" />
<path class="s2" d="M1805.7,297.4 L1876,283.6 L1884.7,301.2 L1884.7,314.1 L1809.6,324.4" style="fill:#fff"/>
<path class="s" d="M1806,309.3 L1876,296.7 L1884.7,314.1" />
<path class="s" d="M1806.5,313.5 L1878.6,301.9" />
<path class="s" d="M1876,283.8 L1876,296.7" />
<ellipse class="s" cx="1858.0" cy="310.6" rx="3.9" ry="2.6"/>
<ellipse class="s" cx="1867.0" cy="309.6" rx="3.9" ry="2.6"/>
<path class="s" d="M1854.7,286.4  L1854.7,265.1  C1854.7,262.5 1861.2,262.5 1861.2,265.1  L1861.2,285.1" />
<path class="s" d="M1863.1,285.1  L1863.1,263.2  C1863.1,260.6 1870.9,260.6 1870.9,263.2  L1870.9,283.8" />
<path class="db" d="M1700,282.5 C1703.7,281.6 1712.9,278.9 1721.9,276.7 C1730.9,274.6 1747.3,269.5 1754.2,269.6 C1761,269.7 1761.7,276.1 1763.2,277.4"/>
<path class="dw" d="M1700,282.5 C1703.7,281.6 1712.9,278.9 1721.9,276.7 C1730.9,274.6 1747.3,269.5 1754.2,269.6 C1761,269.7 1761.7,276.1 1763.2,277.4" />
<path class="s" d="M1700,328.9 C1701.3,328.7 1706.4,327.9 1707.7,327.7" />
<path class="s" d="M1700,341.2 C1701.7,340.9 1708.6,339.6 1710.3,339.3" />
</g>
<g id="rbot">
<path class="s" d="M1310.8,1032.6 C1315.9,1035.8 1336.3,1048.4 1341.5,1051.6" />
<path class="s" d="M1362.2,1063.3 C1371.2,1067.8 1398.3,1082 1416.4,1090.4 C1434.4,1098.8 1452.5,1107.3 1470.5,1113.9 C1488.6,1120.5 1507.1,1125.6 1524.7,1130.1 C1542.3,1134.6 1567.6,1139.2 1576.2,1141" />
<path class="s" d="M1310.8,1032.6 C1310.3,1037.8 1308.4,1051.9 1308.1,1063.3 C1307.8,1074.8 1307.2,1087.4 1309,1101.2 C1310.8,1115.1 1314.2,1132.8 1318.9,1146.4 C1323.5,1159.9 1330.2,1169.8 1336.9,1182.5 C1343.7,1195.1 1351.4,1210.5 1359.5,1222.2 C1367.6,1233.9 1376.8,1244 1385.7,1252.9 C1394.6,1261.8 1408.3,1271.7 1412.8,1275.5" />
<path class="s" d="M1308.1,1063.3 C1309.6,1072.4 1313,1102.3 1317.1,1117.5 C1321.1,1132.7 1329.9,1148.3 1332.4,1154.5" />
<path class="s" d="M1350.5,1183.4 C1356,1189.6 1373.5,1209.8 1383.9,1220.4 C1394.3,1231 1408,1242.7 1412.8,1247.1" />
<path class="s" d="M1350.5,1183.4 L1351.4,1188.8" />
<path class="s" d="M1332.4,1161.7  L1332.4,1155.4  C1340.6,1151.8 1358.6,1152.7 1365.8,1162.6  C1371.2,1173.5 1362.2,1180.7 1350.5,1183.4" />
<path class="s" d="M1332.4,1161.7  C1342.4,1159 1360.4,1160.8 1365.8,1169.8" />
<path class="s" d="M1359.5,1222.2  C1362.2,1234.8 1371.2,1245.7 1385.7,1252.9" />
<path class="s" d="M1412.8,1247.1 L1412.8,1275.5" />
<path class="s" d="M1412.8,1247.1 C1422.4,1246 1450.4,1242.2 1470.5,1240.6 C1490.7,1239 1523.2,1238.1 1533.7,1237.5" />
<path class="s" d="M1412.8,1275.5 C1422.4,1274.6 1450.4,1272.2 1470.5,1270.6 C1490.7,1269 1523.2,1266.7 1533.7,1265.9" />
<path class="s" d="M1416.4,1277.8 C1425.4,1277 1451,1274.3 1470.5,1272.8 C1490.1,1271.2 1523.2,1269 1533.7,1268.2" />
<path class="s" d="M1533.7,1237.5 L1533.7,1265.9" />
<path class="s" d="M1576.2,1141 L1576.2,1167.1" />
<path class="s" d="M1576.2,1141 C1571.5,1144.9 1555.7,1154.5 1548.2,1164.4 C1540.6,1174.4 1533.7,1190 1531,1200.5 C1528.3,1211.1 1531.8,1223.1 1531.9,1227.6" />
<path class="s" d="M1576.2,1167.1 C1572.1,1170.6 1559,1179 1551.8,1187.9 C1544.6,1196.8 1535.8,1212.1 1532.8,1220.4 C1529.8,1228.7 1533.6,1234.7 1533.7,1237.5" />
<ellipse class="s" cx="1351.4" cy="1054.3" rx="10.5" ry="5.8" style="fill:#fff"/>
<path class="s" d="M1340.9,1055.2  L1340.9,1096.7" />
<path class="s" d="M1361.9,1055.2  L1361.9,1096.7" />
<path class="s" d="M1340.9,1056.5  C1344.2,1063.3 1358.6,1063.3 1361.9,1056.5" />
<ellipse class="s" cx="1429.9" cy="1179.8" rx="10.5" ry="5.8" style="fill:#fff"/>
<path class="s" d="M1419.4,1180.7  L1419.4,1222.2" />
<path class="s" d="M1440.4,1180.7  L1440.4,1222.2" />
<path class="s" d="M1419.4,1181.9  C1422.7,1188.8 1437.1,1188.8 1440.4,1181.9" />
<ellipse class="s" cx="1417.3" cy="1164.4" rx="19.9" ry="11.7"/>
<ellipse class="s" cx="1429.9" cy="1179.8" rx="10.5" ry="5.8" style="fill:#fff"/>
<path class="s" d="M1419.4,1180.7  L1419.4,1222.2" />
<path class="s" d="M1440.4,1180.7  L1440.4,1222.2" />
<path class="s" d="M1575.6,1167.3 C1584.6,1169.1 1609.3,1174.7 1629.4,1178.2 C1649.4,1181.7 1684.8,1186.6 1695.9,1188.3" />
<path class="s" d="M1695.9,1188.3 L1660.4,1269.4" />
<path class="s" d="M1697.7,1190.1 L1662.2,1270.3" />
<path class="s" d="M1520,1237.5 L1533.7,1238.4 L1533.7,1264.3" />
<ellipse class="s" cx="1556.1" cy="1244.4" rx="10.0" ry="5.5"/>
<ellipse class="s2" cx="1556.1" cy="1244.9" rx="8.2" ry="4.2"/>
<ellipse class="s" cx="1618.8" cy="1249.0" rx="10.0" ry="5.5"/>
<ellipse class="s2" cx="1618.8" cy="1249.5" rx="8.2" ry="4.2"/>
<path class="s" d="M1533.7,1264.6 C1542.2,1264.8 1567.7,1265 1584.4,1266.2 C1601.1,1267.5 1625.8,1271.1 1634.1,1272.1" />
<path class="s" d="M1533.7,1268.1 C1542.2,1268.2 1567.7,1267.6 1584.4,1268.6 C1601.1,1269.6 1625.8,1273 1634.1,1273.9" />
<path class="s" d="M1522.5,1269.2 C1532.8,1269.5 1564.4,1269.1 1584.4,1270.5 C1604.4,1271.8 1632.8,1276.3 1642.5,1277.5" />
<path class="s" d="M1523,1269.1  C1530,1270.9 1535.6,1273.7 1542.7,1279.4  L1584.4,1282.2  L1627,1285.9  L1643.4,1280.8  C1646.2,1279.4 1648.1,1278.4 1649.1,1277.5" />
<path class="s" d="M1542.7,1270 L1542.7,1279.4" />
<path class="s" d="M1627,1275.6 L1627,1285.9" />
<path class="s" d="M1633.1,1272.3  C1637.8,1269.5 1646.2,1266.7 1659.4,1265.3" />
<path class="s" d="M1643.4,1277.5  C1650,1275.6 1659.4,1274.2 1680,1273.7" />
<path class="fb" d="M1577.6,1277.1  C1578.1,1270.8 1591.7,1270.8 1591.7,1277.1  L1589.6,1294.3  L1574.5,1293.8  Z" />
<path class="s2" d="M1567.7,1297.4  L1588.5,1297.9  L1590.1,1313.5  L1584.9,1335.4  C1584.4,1336.5 1572.9,1336.5 1564.6,1335.4  C1562.5,1334.9 1562.3,1333.3 1562.5,1320.8  Z" style="fill:#fff"/>
<path class="s" d="M1562.5,1319.8  L1582.3,1319.6  C1583.9,1319.8 1584.6,1320.8 1584.6,1322.4  L1584.9,1335.4" />
<path class="s" d="M1582.3,1319.6  L1588.5,1297.9" />
<path class="s" d="M1587,1299  L1588,1314.6" />
<ellipse class="s2" cx="1575.0" cy="1312.0" rx="5.2" ry="2.7"/>
<path class="s" d="M1575,1294.3  L1588.5,1295" />
<path class="s2" d="M1788.8,1253.3 L1853.8,1261.7 L1854.4,1273.3 L1845.1,1292.1 L1776.1,1278.5" style="fill:#fff"/>
<path class="s" d="M1783,1268.7 L1845.1,1278.5 L1853.8,1262.3" />
<path class="s" d="M1845.1,1278.5 L1845.1,1292.1" />
<path class="s" d="M1824.2,1267.5  L1824.2,1236.2  C1824.2,1232.7 1830.6,1232.7 1830.6,1236.2  L1830.6,1268.7" />
<path class="s" d="M1824.2,1236.7  C1825.4,1239.1 1829.5,1239.1 1830.6,1236.7" />
<path class="s" d="M1833.5,1267.5  L1833.5,1236.2  C1833.5,1232.7 1839.9,1232.7 1839.9,1236.2  L1839.9,1268.7" />
<path class="s" d="M1833.5,1236.7  C1834.7,1239.1 1838.8,1239.1 1839.9,1236.7" />
<path class="s" d="M1676.3,1276.2 C1678.4,1277.9 1683.4,1283.2 1689,1286.1 C1694.6,1289 1706.4,1292.4 1709.9,1293.6" />
<path class="s" d="M1660,1271 C1662.9,1271.3 1672.2,1271.6 1677.4,1272.7 C1682.6,1273.9 1685.5,1276.5 1691.3,1278 C1697.1,1279.4 1706.2,1280.4 1712.2,1281.4 C1718.2,1282.5 1724.8,1283.9 1727.3,1284.3" />
<path class="s" d="M1660,1269.2 C1662.9,1269.5 1672.2,1269.6 1677.4,1270.8 C1682.6,1271.9 1685.5,1274.7 1691.3,1276.2 C1697.1,1277.7 1706.2,1278.5 1712.2,1279.7 C1718.2,1280.9 1724.8,1282.6 1727.3,1283.2" />
<path class="s" d="M1691.3,1276.2 L1691.3,1278.5" />
<path class="s2" d="M1697.1,1191.5 C1699.1,1190.6 1703.3,1187.6 1708.8,1186.3 C1714.2,1184.9 1722.7,1183.9 1729.6,1183.3 C1736.6,1182.8 1744.7,1182.1 1750.5,1182.8 C1756.3,1183.4 1759.2,1185.7 1764.5,1187.4 C1769.7,1189.2 1777,1190.9 1781.9,1193.2 C1786.7,1195.5 1791.1,1198.4 1793.5,1201.3 C1795.9,1204.2 1796.2,1208.1 1796.4,1210.6 C1796.6,1213.1 1796.1,1214.5 1794.6,1216.4 C1793.2,1218.4 1789.3,1220.3 1787.7,1222.2 C1786,1224.2 1785,1225.9 1784.8,1228 C1784.6,1230.2 1785.7,1232.7 1786.5,1235 C1787.3,1237.3 1789,1239.3 1789.4,1242 C1789.8,1244.7 1789.5,1248.4 1788.8,1251.3 C1788.2,1254.2 1787.5,1256.5 1785.4,1259.4 C1783.2,1262.3 1779.6,1266.1 1776.1,1268.7 C1772.6,1271.3 1767,1273.6 1764.5,1275 C1762,1276.5 1761.6,1277 1761,1277.4" style="fill:#fff"/>
<path class="s" d="M1795.2,1211.8 C1794.9,1212.9 1794.8,1216.6 1793.5,1218.8 C1792.1,1220.9 1788.2,1223.6 1787.1,1224.6" />
<path class="s" d="M1788.8,1251.3 C1788.7,1252.4 1789.4,1255.7 1788.3,1258.2 C1787.1,1260.7 1784.7,1263.8 1781.9,1266.3 C1779.1,1268.9 1773.2,1272.1 1771.4,1273.3" />
<path class="s2" d="M1709.9,1215.3 C1707.4,1216 1699.7,1217 1694.8,1219.9 C1690,1222.8 1683.4,1228.4 1680.9,1232.7 C1678.4,1236.9 1678.8,1241.2 1679.7,1245.4 C1680.7,1249.7 1682.6,1254.7 1686.7,1258.2 C1690.8,1261.7 1698.7,1265.1 1704.1,1266.3 C1709.5,1267.5 1716.7,1265.6 1719.2,1265.4" />
<path class="s" d="M1680.3,1247.8 C1681.6,1250.1 1683.7,1258 1687.9,1261.7 C1692,1265.4 1700,1268.7 1705.3,1269.8 C1710.5,1271 1716.9,1268.9 1719.2,1268.7" />
<path class="s2" d="M1718,1213.9 C1721.9,1214 1734.1,1212.9 1741.3,1214.3 C1748.4,1215.7 1755.8,1218.8 1761,1222.2 C1766.2,1225.7 1770.5,1230.6 1772.6,1235 C1774.7,1239.5 1774.5,1244.9 1773.5,1248.9 C1772.6,1253 1769.6,1257.3 1766.8,1259.4 C1764,1261.5 1758.6,1261.3 1756.9,1261.7" />
<path class="s" d="M1773.2,1251.3 C1772.3,1253.2 1770.2,1259.6 1768,1262.9 C1765.7,1266.2 1761.2,1269.6 1759.8,1271" />
<path class="s" d="M1709.9,1215.3 L1713.4,1224.6" />
<path class="s" d="M1718,1213.9 L1722.1,1224.6" />
<path class="s" d="M1723.3,1221.1 L1725,1224.6" />
<ellipse class="s" cx="1726.7" cy="1241.0" rx="33.7" ry="19.2"/>
<ellipse class="s" cx="1726.7" cy="1239.6" rx="32.5" ry="17.4"/>
<ellipse class="s2" cx="1726.7" cy="1241.0" rx="26.9" ry="15.3"/>
<ellipse class="s2" cx="1726.7" cy="1240.2" rx="5.8" ry="3.3"/>
<path class="s" d="M1700,1242 L1700,1250.1" />
<path class="s" d="M1753.4,1242 L1753.4,1250.1" />
<path class="s2" d="M1722.7,1208.9 C1723.6,1207 1727.3,1200.7 1728.5,1197.3 C1729.6,1193.9 1727.5,1190.8 1729.6,1188.6 C1731.8,1186.3 1736.4,1184.4 1741.3,1183.9 C1746.1,1183.4 1754.8,1184.1 1758.7,1185.7 C1762.5,1187.2 1763.6,1190.7 1764.5,1193.2 C1765.3,1195.7 1765,1198.8 1763.9,1200.8 C1762.8,1202.7 1759.2,1203.2 1758.1,1204.8 C1756.9,1206.5 1757.2,1208.7 1756.9,1210.6 C1756.6,1212.6 1756.4,1215.5 1756.3,1216.4" />
<path class="s" d="M1723.6,1210 C1726.6,1210 1735.8,1209.2 1741.3,1210 C1746.7,1210.9 1753.8,1214.4 1756.3,1215.3" />
<ellipse class="s2" cx="1746.5" cy="1193.8" rx="6.4" ry="3.5"/>
<path class="s" d="M1728.5,1196.7  C1722.7,1195 1718,1197.9 1719.8,1202.5  C1721.5,1204.8 1725,1205.4 1727.9,1204.8" />
<path class="s" d="M1762.1,1201.3  C1766.8,1200.2 1774.9,1203.7 1774.3,1208.3  C1773.2,1211.8 1766.8,1211.8 1761.6,1210" />
<path class="s2" d="M1727.3,1284.9 C1724.8,1286.3 1715.3,1290.7 1712.2,1293 C1709.1,1295.4 1708.9,1296.7 1708.8,1298.8 C1708.6,1301 1709.1,1303.9 1711.1,1305.8 C1713,1307.7 1713.8,1309.8 1720.4,1310.5 C1726.9,1311.1 1745.6,1312.6 1750.5,1309.9 C1755.5,1307.2 1750.3,1297.6 1750,1294.2 C1749.6,1290.8 1747.7,1290.8 1748.2,1289.6 C1748.7,1288.4 1751.2,1286.8 1752.9,1287 C1754.5,1287.2 1755.8,1287.7 1758.1,1290.7 C1760.4,1293.8 1761.9,1303.5 1766.8,1305.2 C1771.7,1307 1782.5,1302.8 1787.7,1301.2 C1792.9,1299.5 1796.2,1297.1 1798.1,1295.4 C1800.1,1293.6 1800.5,1292.8 1799.3,1290.7 C1798.1,1288.6 1795,1284.3 1791.2,1282.6 C1787.3,1280.9 1780.5,1281.1 1776.1,1280.3 C1771.6,1279.4 1767.5,1279.5 1764.5,1277.4 C1761.5,1275.2 1759.1,1269.1 1758.1,1267.5" style="fill:#fff"/>
<path class="s2" d="M1707.6,1308.1 C1707.8,1310.6 1706.6,1319.4 1708.8,1323.2 C1710.9,1327.1 1713.8,1329.8 1720.4,1331.3 C1726.9,1332.9 1738.9,1333.1 1748.2,1332.7 C1757.5,1332.4 1768,1331 1776.1,1329.3 C1784.2,1327.5 1792.8,1325.2 1797,1322.3 C1801.1,1319.4 1800.5,1315.7 1801,1311.6 C1801.5,1307.5 1800.1,1300 1799.9,1297.7" />
<path class="s" d="M1708.2,1309.9 C1711.8,1311.1 1722.6,1316.1 1729.6,1317.2 C1736.7,1318.3 1747.1,1316.6 1750.5,1316.5" />
<path class="s" d="M1708.8,1315.7 C1712.2,1316.4 1722.9,1319.3 1729.6,1320 C1736.4,1320.6 1746.1,1319.8 1749.4,1319.7" />
<path class="s" d="M1768,1314.2 C1771.2,1313.6 1782.4,1312.2 1787.7,1310.7 C1793,1309.1 1797.8,1305.8 1799.9,1304.9" />
<path class="s" d="M1770.9,1308.7 C1773.9,1308.2 1783.9,1307.3 1788.8,1305.8 C1793.8,1304.4 1798.5,1301 1800.5,1300" />
<path class="s" d="M1729.6,1310.7 L1728.5,1332.5" />
<path class="s" d="M1791.2,1303.5 L1791.2,1322.3" />
<path class="s" d="M1773.2,1305.8 L1773.2,1314.5" />
<path class="s" d="M1747.1,1310.5 L1747.6,1317.4" />
<path class="s" d="M1750.5,1309.9 L1749.4,1325.5 L1772,1321.8 L1766.8,1305.2" />
<ellipse class="s2" cx="1729.1" cy="1298.8" rx="6.4" ry="3.5"/>
<ellipse class="s2" cx="1779.6" cy="1291.3" rx="6.4" ry="3.5"/>
</g>
<g id="leaders">
<line class="ld" x1="665.6" y1="33.4" x2="901.9" y2="66.1"/>
<line class="ld" x1="557" y1="106.5" x2="776.9" y2="206"/>
<line class="ld" x1="131.2" y1="187" x2="901.9" y2="257.9"/>
<line class="ld" x1="224.2" y1="349.8" x2="797.2" y2="324.5"/>
<line class="ld" x1="579.7" y1="1399.7" x2="901" y2="1399.7"/>
</g>
<g id="labels">
<text class="lab" x="24" y="44.6" textLength="629.5" lengthAdjust="spacingAndGlyphs">Hairspring stud holder counterplate</text>
<text class="lab" x="24" y="115.1" textLength="517" lengthAdjust="spacingAndGlyphs">Micrometric regulating screw</text>
<text class="lab" x="25" y="197" textLength="98.5" lengthAdjust="spacingAndGlyphs">Index</text>
<text class="lab" x="24" y="361.6" textLength="191" lengthAdjust="spacingAndGlyphs">Swan neck</text>
<text class="lab" x="25" y="1415.2" textLength="548" lengthAdjust="spacingAndGlyphs">Hairspring stud holder (mobile)</text>
<text class="cap" x="834" y="740.5" textLength="59" lengthAdjust="spacingAndGlyphs">top</text>
<text class="cap" x="799" y="1520" textLength="129" lengthAdjust="spacingAndGlyphs">bottom</text>
</g>
</svg>
</body></html>
